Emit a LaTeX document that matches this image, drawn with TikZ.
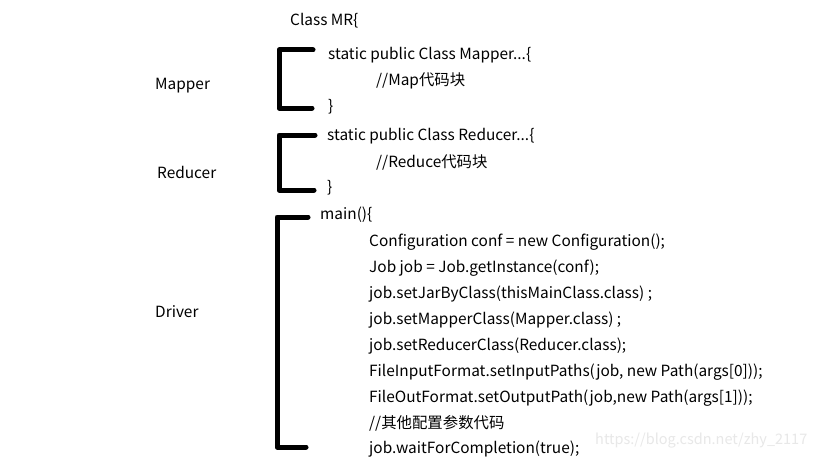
\documentclass[tikz,border=0pt]{standalone}
\usepackage{fontspec}
\setmainfont{Noto Sans CJK SC}
\begin{document}
\begin{tikzpicture}[x=1pt,y=-1pt,
  txt/.style={anchor=west,inner sep=0pt,font=\fontsize{15.4}{17}\selectfont},
  brk/.style={line width=5pt,line cap=round,line join=round}]
\useasboundingbox[fill=white] (0,0) rectangle (819,460);
\node[txt] (cls) at (290,21) {Class MR\{};
% Mapper
\draw[brk] (313,50) -- (279,50) -- (279,108) -- (312,108);
\node[txt] (lm) at (155,86) {Mapper};
\node[txt] (m1) at (328,55) {static public Class Mapper...\{};
\node[txt] (m2) at (376,81) {//Map代码块};
\node[txt] (m3) at (328,107) {\}};
% Reducer
\draw[brk] (315,135) -- (279,135) -- (279,190) -- (314,190);
\node[txt] (lr) at (157,172) {Reducer};
\node[txt] (r1) at (327,136) {static public Class Reducer...\{};
\node[txt] (r2) at (376,162) {//Reduce代码块};
\node[txt] (r3) at (327,188) {\}};
% Driver
\draw[brk] (308,217) -- (277,217) -- (277,447) -- (306,447);
\node[txt] (ld) at (155,312) {Driver};
\node[txt] (d0) at (320,215) {main()\{};
\node[txt] (d1) at (369,242) {Configuration conf = new Configuration();};
\node[txt] (d2) at (369,268) {Job job = Job.getInstance(conf);};
\node[txt] (d3) at (369,294) {job.setJarByClass(thisMainClass.class) ;};
\node[txt] (d4) at (369,320) {job.setMapperClass(Mapper.class) ;};
\node[txt] (d5) at (369,346) {job.setReducerClass(Reducer.class);};
\node[txt] (d6) at (369,372) {FileInputFormat.setInputPaths(job, new Path(args[0]));};
\node[txt] (d7) at (369,398) {FileOutFormat.setOutputPath(job,new Path(args[1]));};
\node[txt] (d8) at (369,423) {//其他配置参数代码};
\node[txt] (d9) at (369,449) {job.waitForCompletion(true);};
\node[anchor=west,inner sep=0pt,text=black!9,font=\fontsize{14.5}{15}\selectfont] (wm) at (595,441) {https://blog.csdn.net/zhy\_2117};
\end{tikzpicture}
\end{document}
